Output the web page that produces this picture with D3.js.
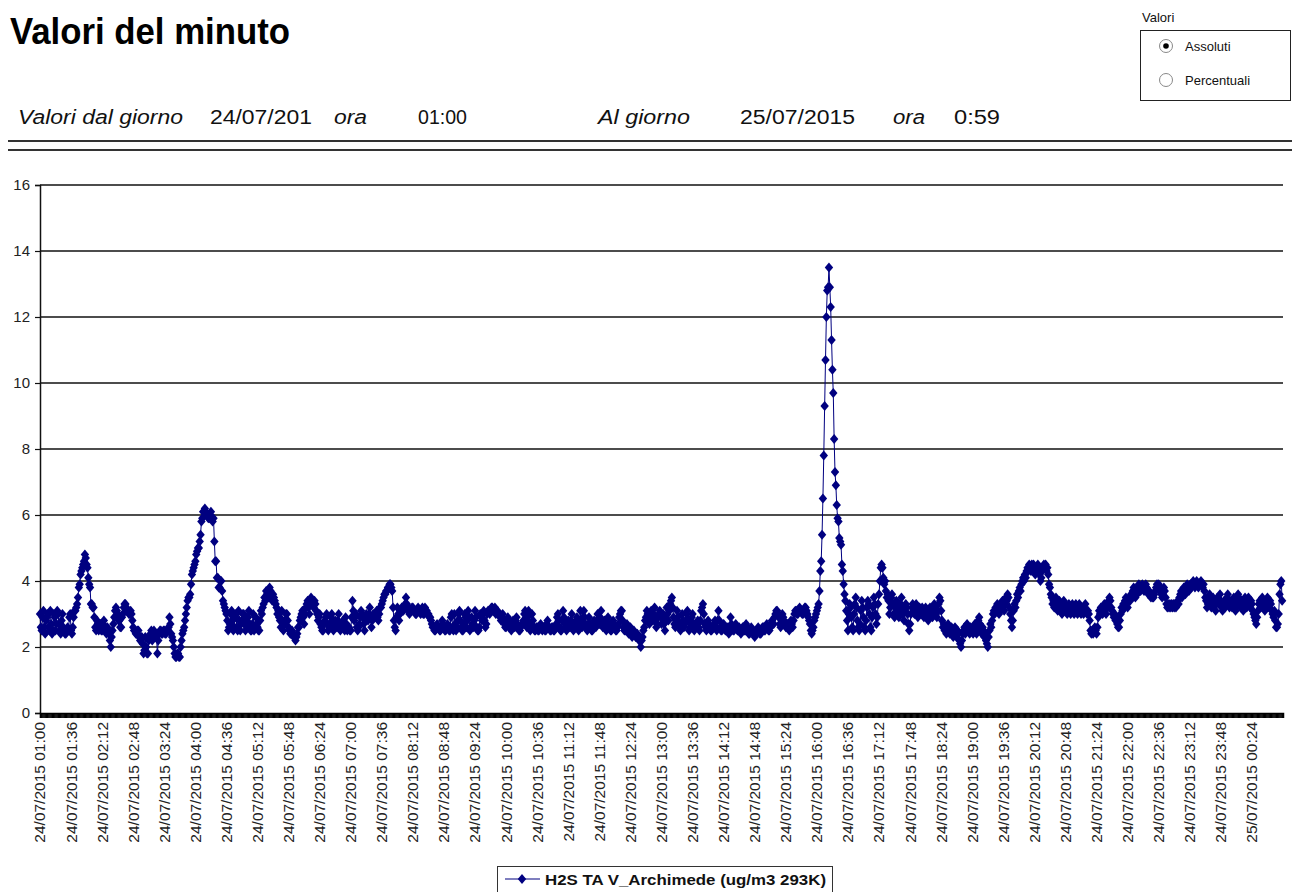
<!DOCTYPE html>
<html>
<head>
<meta charset="utf-8">
<script src="https://cdn.jsdelivr.net/npm/d3@7"></script>
<style>
  body { margin: 0; background: #fff; }
  svg { display: block; }
  text { font-family: "Liberation Sans", Arial, Helvetica, sans-serif; }
</style>
</head>
<body>
<svg id="chart" width="1292" height="892"></svg>
<script>
// H2S TA V_Archimede, one value per minute, one array per hour (24/07/2015 01:00 -> 25/07/2015 00:59)
var h01 = [3.0,2.6,2.5,2.9,3.1,2.6,2.4,2.8,2.9,3.0, 2.6,2.5,3.1,2.7,2.4,2.5,3.0,2.9,2.5,2.7, 3.1,3.0,2.7,2.5,2.4,2.8,3.0,2.6,2.5,2.4, 2.4,2.5,2.6,2.5,2.9,3.0,2.5,2.4,2.6,2.9, 3.1,3.1,3.2,3.3,3.5,3.8,3.9,4.2,4.3,4.4, 4.5,4.6,4.8,4.7,4.5,4.4,4.1,3.9,3.8,3.3];
var h02 = [3.3,3.2,3.2,2.9,2.6,2.5,2.8,2.7,2.5,2.6, 2.7,2.5,2.5,2.7,2.8,2.6,2.5,2.4,2.6,2.5, 2.4,2.2,2.0,2.3,2.5,2.7,2.9,3.1,3.2,3.1, 3.0,2.8,2.8,2.6,2.6,2.9,3.0,3.2,3.3,3.3, 3.2,3.1,3.1,3.0,3.0,3.1,3.0,2.8,2.6,2.5, 2.5,2.4,2.4,2.5,2.5,2.3,2.2,2.3,2.3,2.1];
var h03 = [1.8,1.9,2.3,2.0,1.8,1.8,2.2,2.3,2.4,2.5, 2.2,2.3,2.5,2.4,2.4,2.3,1.8,2.2,2.4,2.5, 2.5,2.4,2.4,2.5,2.5,2.4,2.4,2.5,2.5,2.6, 2.9,2.7,2.4,2.3,2.2,2.0,1.8,1.7,1.7,1.8, 1.8,1.7,1.7,2.0,2.2,2.4,2.5,2.6,2.8,3.0, 3.2,3.4,3.5,3.5,3.6,3.9,4.2,4.3,4.4,4.5];
var h04 = [4.6,4.8,4.9,5.0,5.0,5.2,5.4,5.8,5.9,6.1, 6.1,6.2,6.1,6.0,6.0,5.9,5.9,6.0,6.1,5.9, 5.8,5.9,5.2,4.6,4.6,4.1,4.1,3.8,3.8,4.0, 4.0,3.7,3.4,3.3,3.2,3.1,3.0,2.8,2.5,2.6, 2.7,3.0,3.1,2.8,2.5,2.6,2.9,3.0,2.6,2.5, 3.1,2.8,2.5,2.7,2.8,3.0,3.0,2.7,2.5,2.8];
var h05 = [2.6,2.9,3.1,2.7,2.5,2.5,2.7,3.0,2.5,2.6, 2.9,2.7,2.6,2.5,2.5,2.8,3.1,3.0,3.2,3.3, 3.5,3.4,3.7,3.6,3.6,3.5,3.8,3.7,3.5,3.4, 3.6,3.5,3.4,3.3,3.2,3.0,3.1,2.9,2.8,2.6, 3.1,2.8,2.5,2.7,2.8,3.0,3.0,2.8,2.6,2.5, 2.4,2.4,2.5,2.4,2.3,2.3,2.2,2.3,2.4,2.6];
var h06 = [2.6,2.8,2.9,3.0,3.1,2.9,2.7,3.0,3.2,3.3, 3.4,3.2,3.0,3.3,3.5,3.4,3.3,3.2,3.4,3.3, 3.1,3.0,2.8,2.9,3.0,2.7,2.6,2.5,2.5,2.7, 2.8,2.9,3.0,2.7,2.5,2.6,2.7,2.9,3.0,2.8, 2.5,2.6,2.8,2.7,2.6,2.8,3.0,2.7,2.5,2.6, 2.7,2.8,2.6,2.5,2.9,2.7,2.5,2.6,2.6,2.5];
var h07 = [2.5,2.9,3.4,3.1,2.8,2.9,3.0,2.6,2.5,2.6, 2.7,2.9,3.1,3.0,2.9,2.7,2.5,2.8,3.0,2.9, 2.8,3.0,3.2,2.9,2.6,2.8,3.0,2.9,2.9,3.0, 3.1,2.9,2.8,3.0,3.2,3.2,3.3,3.4,3.5,3.6, 3.6,3.7,3.7,3.8,3.8,3.9,3.9,3.8,3.7,3.2, 2.8,2.6,2.5,2.9,3.2,3.0,2.8,3.0,3.1,3.2];
var h08 = [3.1,3.1,3.2,3.3,3.5,3.3,3.2,3.1,3.0,3.1, 3.1,3.2,3.2,3.1,3.1,3.0,3.0,3.1,3.2,3.1, 3.1,3.0,3.1,3.2,3.0,3.0,3.2,3.1,3.1,3.0, 3.0,2.9,2.9,2.8,2.7,2.6,2.6,2.5,2.5,2.6, 2.7,2.6,2.6,2.5,2.5,2.6,2.8,2.7,2.6,2.5, 2.5,2.6,2.7,2.6,2.5,2.5,2.9,3.0,2.6,2.5];
var h09 = [3.0,2.7,2.5,2.6,2.8,3.0,3.1,2.8,2.6,2.5, 2.5,2.7,3.0,2.9,2.6,2.8,3.1,2.9,2.5,2.6, 2.9,2.7,2.6,2.8,3.1,2.9,2.6,2.5,2.5,2.6, 3.0,2.9,2.8,3.0,3.1,2.8,2.6,2.7,3.0,3.1, 3.1,3.0,3.1,3.2,3.2,3.1,3.1,3.2,3.0,3.1, 3.1,3.0,3.0,2.9,2.8,2.9,3.0,2.8,2.7,2.6];
var h10 = [2.6,2.7,2.9,2.8,2.7,2.6,2.5,2.6,2.8,2.7, 2.6,2.8,2.9,2.7,2.6,2.5,2.5,2.6,2.7,2.7, 2.8,3.0,3.1,2.8,2.6,2.9,3.1,2.7,2.5,2.7, 3.0,2.8,2.6,2.5,2.5,2.6,2.6,2.5,2.5,2.6, 2.7,2.6,2.5,2.6,2.6,2.5,2.5,2.7,2.8,2.6, 2.6,2.5,2.5,2.6,2.6,2.5,2.5,2.6,2.7,2.9];
var h11 = [3.0,2.8,2.6,2.5,2.5,2.8,3.1,2.9,2.7,2.6, 2.5,2.6,2.8,2.7,2.6,2.8,3.0,2.7,2.5,2.6, 2.7,2.8,2.9,2.7,2.5,2.7,3.1,2.8,2.6,2.9, 3.1,2.9,2.7,2.6,2.5,2.7,2.9,2.7,2.6,2.5, 2.5,2.6,2.8,2.7,2.6,2.8,3.0,2.8,2.7,2.9, 3.1,2.8,2.6,2.7,2.8,2.6,2.5,2.7,2.9,2.7];
var h12 = [2.6,2.5,2.5,2.6,2.8,2.7,2.6,2.5,2.5,2.6, 2.7,2.9,3.0,3.1,3.1,2.8,2.6,2.5,2.5,2.6, 2.7,2.5,2.4,2.5,2.6,2.4,2.3,2.4,2.5,2.4, 2.3,2.3,2.4,2.3,2.2,2.3,2.0,2.2,2.3,2.5, 2.6,2.8,2.9,3.1,3.0,2.8,2.7,2.9,3.1,3.0, 2.8,3.0,3.2,2.9,2.6,2.7,2.9,3.0,3.1,2.9];
var h13 = [2.7,2.9,3.0,2.7,2.5,2.8,3.2,3.0,2.8,3.1, 3.3,3.4,3.5,3.2,2.9,2.7,2.6,2.8,3.1,2.9, 2.7,2.6,2.5,2.7,3.0,2.8,2.6,2.7,2.8,3.0, 3.1,2.8,2.5,2.6,2.7,2.9,3.0,2.7,2.5,2.6, 2.6,2.7,2.8,2.6,2.5,2.8,3.1,3.2,3.3,3.0, 2.7,2.6,2.5,2.6,2.8,2.7,2.6,2.5,2.5,2.6];
var h14 = [2.6,2.7,2.8,2.6,2.5,2.8,3.1,2.8,2.6,2.5, 2.5,2.6,2.7,2.6,2.5,2.5,2.6,2.5,2.4,2.6, 2.9,2.7,2.6,2.5,2.5,2.6,2.7,2.6,2.5,2.5, 2.6,2.5,2.4,2.5,2.6,2.6,2.5,2.5,2.7,2.6, 2.5,2.4,2.4,2.5,2.6,2.5,2.5,2.4,2.3,2.4, 2.5,2.5,2.6,2.5,2.4,2.4,2.5,2.6,2.6,2.5];
var h15 = [2.5,2.6,2.7,2.6,2.5,2.5,2.6,2.7,2.8,2.7, 2.7,2.9,3.0,3.1,3.1,3.0,2.9,2.7,2.6,2.8, 3.0,2.9,2.8,2.7,2.6,2.6,2.7,2.6,2.5,2.7, 2.8,2.7,2.6,2.8,3.0,3.1,3.1,3.0,3.0,3.1, 3.2,3.1,3.1,3.0,3.0,3.1,3.2,3.2,3.1,3.0, 2.9,2.8,2.7,2.5,2.4,2.5,2.6,2.8,2.9,3.0];
var h16 = [3.1,3.2,3.3,3.7,4.3,4.6,5.4,6.5,7.8,9.3, 10.7,12.0,12.8,12.9,13.5,12.9,12.3,11.3,10.4,9.7, 8.3,7.3,6.9,6.3,5.9,5.8,5.3,5.2,5.1,4.5, 4.3,3.9,3.6,3.4,3.1,2.8,2.5,3.0,3.3,3.2, 2.9,2.6,2.5,3.0,3.3,3.5,3.2,2.8,2.6,2.5, 2.7,3.1,3.4,3.2,2.9,2.6,2.5,2.8,3.2,3.4];
var h17 = [3.3,3.0,2.6,2.5,2.9,3.2,3.5,3.3,3.0,2.7, 2.9,3.3,3.6,4.0,4.4,4.5,4.4,4.1,3.9,4.0, 3.7,3.5,3.6,3.4,3.0,3.2,3.5,3.6,3.3,3.0, 2.9,3.2,3.4,3.3,3.1,2.9,3.0,3.3,3.5,3.2, 3.0,2.8,3.1,3.3,3.2,3.0,2.7,2.5,2.7,3.0, 3.2,3.3,3.1,3.0,3.2,3.3,3.1,2.9,3.0,3.2];
var h18 = [3.1,3.0,3.2,3.1,2.9,3.0,3.2,3.1,3.0,2.8, 3.0,3.2,3.1,3.0,2.9,3.1,3.3,3.2,3.0,2.9, 3.1,3.3,3.5,3.4,3.1,2.8,2.6,2.7,2.5,2.6, 2.4,2.5,2.7,2.6,2.4,2.5,2.6,2.4,2.3,2.5, 2.6,2.4,2.3,2.5,2.4,2.2,2.1,2.0,2.2,2.4, 2.5,2.6,2.4,2.5,2.7,2.6,2.5,2.4,2.6,2.5];
var h19 = [2.5,2.4,2.6,2.7,2.5,2.4,2.6,2.8,2.9,2.7, 2.5,2.4,2.6,2.5,2.3,2.4,2.2,2.1,2.0,2.3, 2.5,2.7,2.6,2.8,3.0,3.1,3.0,3.2,3.1,3.3, 3.2,3.0,3.1,3.3,3.2,3.4,3.3,3.1,3.3,3.5, 3.4,3.6,3.5,3.2,3.0,2.8,2.6,2.8,3.1,3.3, 3.2,3.4,3.6,3.5,3.7,3.8,3.7,3.9,4.0,4.1];
var h20 = [4.0,4.2,4.1,4.3,4.4,4.3,4.5,4.4,4.3,4.5, 4.4,4.5,4.4,4.2,4.3,4.4,4.5,4.4,4.2,4.0, 4.1,4.3,4.4,4.5,4.4,4.5,4.3,4.4,4.2,3.9, 3.8,3.6,3.5,3.3,3.4,3.2,3.3,3.5,3.3,3.1, 3.2,3.4,3.3,3.1,3.0,3.2,3.4,3.3,3.2,3.1, 3.0,3.2,3.3,3.1,3.0,3.2,3.3,3.1,3.0,3.2];
var h21 = [3.3,3.1,3.0,3.2,3.3,3.1,3.0,3.2,3.1,3.0, 3.2,3.3,3.1,3.0,3.1,3.0,2.8,2.5,2.4,2.5, 2.4,2.5,2.6,2.5,2.4,2.6,2.9,3.1,3.0,3.2, 3.1,3.0,3.2,3.3,3.1,3.0,3.2,3.3,3.4,3.5, 3.4,3.2,3.1,3.0,2.9,3.0,2.8,2.9,2.7,2.6, 2.6,2.8,3.0,3.2,3.1,3.3,3.2,3.4,3.5,3.3];
var h22 = [3.2,3.4,3.5,3.4,3.6,3.5,3.7,3.8,3.6,3.5, 3.7,3.6,3.8,3.9,3.8,3.7,3.8,3.9,3.8,3.7, 3.8,3.9,3.8,3.7,3.6,3.7,3.6,3.5,3.6,3.5, 3.5,3.6,3.7,3.8,3.9,3.8,3.9,3.8,3.7,3.6, 3.5,3.6,3.8,3.7,3.5,3.3,3.2,3.3,3.2,3.3, 3.2,3.3,3.2,3.3,3.2,3.3,3.2,3.3,3.4,3.3];
var h23 = [3.5,3.6,3.7,3.5,3.6,3.8,3.7,3.6,3.8,3.9, 3.8,3.7,3.8,3.9,3.8,3.9,4.0,3.9,3.8,3.9, 4.0,3.9,3.8,3.9,3.9,4.0,3.9,3.8,3.9,3.7, 3.5,3.4,3.2,3.3,3.5,3.6,3.4,3.2,3.3,3.5, 3.4,3.3,3.1,3.3,3.5,3.4,3.3,3.6,3.4,3.2, 3.1,3.3,3.4,3.2,3.3,3.5,3.6,3.4,3.2,3.3];
var h24 = [3.4,3.2,3.3,3.5,3.3,3.1,3.2,3.4,3.6,3.5, 3.3,3.2,3.4,3.3,3.1,3.3,3.5,3.4,3.2,3.3, 3.5,3.3,3.2,3.4,3.3,3.1,3.0,2.9,2.8,2.7, 2.9,3.1,3.3,3.4,3.2,3.3,3.5,3.4,3.2,3.1, 3.3,3.4,3.5,3.3,3.2,3.4,3.3,3.1,3.0,2.9, 3.1,2.8,2.6,2.6,2.7,3.0,3.6,3.9,4.0,3.4];

var values = [].concat(h01,h02,h03,h04,h05,h06,h07,h08,h09,h10,h11,h12,
                       h13,h14,h15,h16,h17,h18,h19,h20,h21,h22,h23,h24);

// category labels shown on the x axis (every 36th minute)
var tickLabels = [
  "24/07/2015 01:00","24/07/2015 01:36","24/07/2015 02:12","24/07/2015 02:48","24/07/2015 03:24",
  "24/07/2015 04:00","24/07/2015 04:36","24/07/2015 05:12","24/07/2015 05:48","24/07/2015 06:24",
  "24/07/2015 07:00","24/07/2015 07:36","24/07/2015 08:12","24/07/2015 08:48","24/07/2015 09:24",
  "24/07/2015 10:00","24/07/2015 10:36","24/07/2015 11:12","24/07/2015 11:48","24/07/2015 12:24",
  "24/07/2015 13:00","24/07/2015 13:36","24/07/2015 14:12","24/07/2015 14:48","24/07/2015 15:24",
  "24/07/2015 16:00","24/07/2015 16:36","24/07/2015 17:12","24/07/2015 17:48","24/07/2015 18:24",
  "24/07/2015 19:00","24/07/2015 19:36","24/07/2015 20:12","24/07/2015 20:48","24/07/2015 21:24",
  "24/07/2015 22:00","24/07/2015 22:36","24/07/2015 23:12","24/07/2015 23:48","25/07/2015 00:24"
];
var labelStep = 36;
var yTicks = [0,2,4,6,8,10,12,14,16];
var seriesName = "H2S TA V_Archimede (ug/m3 293K)";

var svg = d3.select("#chart");
var navy = "#000080";

// ---- header ----
svg.append("text").attr("x", 10).attr("y", 44)
  .attr("font-size", 36).attr("font-weight", "bold").attr("fill", "#000")
  .attr("textLength", 280).attr("lengthAdjust", "spacingAndGlyphs")
  .text("Valori del minuto");

var header = [
  {t: "Valori dal giorno", x: 18,  w: 165, it: true},
  {t: "24/07/201",         x: 210, w: 102, it: false},
  {t: "ora",               x: 334, w: 33,  it: true},
  {t: "01:00",             x: 418, w: 49,  it: false},
  {t: "Al giorno",         x: 598, w: 92,  it: true},
  {t: "25/07/2015",        x: 740, w: 115, it: false},
  {t: "ora",               x: 893, w: 32,  it: true},
  {t: "0:59",              x: 954, w: 46,  it: false}
];
svg.selectAll("text.hdr").data(header).enter().append("text")
  .attr("class", "hdr")
  .attr("x", function(d){ return d.x; }).attr("y", 124)
  .attr("font-size", 20).attr("fill", "#111")
  .attr("font-style", function(d){ return d.it ? "italic" : "normal"; })
  .attr("textLength", function(d){ return d.w; }).attr("lengthAdjust", "spacingAndGlyphs")
  .text(function(d){ return d.t; });

svg.append("line").attr("x1", 8).attr("x2", 1292).attr("y1", 141).attr("y2", 141)
  .attr("stroke", "#333").attr("stroke-width", 2);
svg.append("line").attr("x1", 8).attr("x2", 1292).attr("y1", 150).attr("y2", 150)
  .attr("stroke", "#333").attr("stroke-width", 2);

// radio box
svg.append("text").attr("x", 1142).attr("y", 22).attr("font-size", 13).attr("fill", "#111").text("Valori");
svg.append("rect").attr("x", 1140.5).attr("y", 30.5).attr("width", 150).attr("height", 70)
  .attr("fill", "none").attr("stroke", "#222").attr("stroke-width", 1);
[{t: "Assoluti", y: 46, on: true}, {t: "Percentuali", y: 80, on: false}].forEach(function(r){
  svg.append("circle").attr("cx", 1166).attr("cy", r.y).attr("r", 6.5)
    .attr("fill", "#fff").attr("stroke", "#888").attr("stroke-width", 1);
  if (r.on) svg.append("circle").attr("cx", 1166).attr("cy", r.y).attr("r", 2.8).attr("fill", "#000");
  svg.append("text").attr("x", 1185).attr("y", r.y + 5).attr("font-size", 13).attr("fill", "#111").text(r.t);
});

// ---- chart ----
var plotLeft = 40, plotRight = 1283, plotTop = 185, plotBottom = 713;
var x = d3.scaleLinear().domain([0, 1440]).range([plotLeft, plotRight]);
var y = d3.scaleLinear().domain([0, 16]).range([plotBottom, plotTop]);

// gridlines
svg.append("g").selectAll("line").data(yTicks.filter(function(v){ return v > 0; })).enter()
  .append("line")
  .attr("x1", plotLeft).attr("x2", plotRight)
  .attr("y1", function(d){ return y(d); }).attr("y2", function(d){ return y(d); })
  .attr("stroke", "#111").attr("stroke-width", 1.4);

// y axis
var yAxis = svg.append("g").attr("transform", "translate(" + plotLeft + ",0)")
  .call(d3.axisLeft(y).tickValues(yTicks).tickSize(5).tickPadding(5));
yAxis.select(".domain").attr("stroke", "#111").attr("stroke-width", 1.5);
yAxis.selectAll(".tick line").attr("stroke", "#111").attr("stroke-width", 1.2);
yAxis.selectAll(".tick text").attr("font-size", 15).attr("fill", "#222")
  .attr("font-family", "'Liberation Sans', Arial, sans-serif");

// x axis: one tick per minute, labels every 36 minutes
var xAxis = svg.append("g").attr("transform", "translate(0," + plotBottom + ")")
  .call(d3.axisBottom(x).tickValues(d3.range(0, values.length)).tickSize(5).tickFormat(""));
xAxis.select(".domain").attr("stroke", "#000").attr("stroke-width", 1.5);
xAxis.selectAll(".tick line").attr("stroke", "#000").attr("stroke-width", 1.2);

svg.append("g").selectAll("text").data(tickLabels).enter().append("text")
  .attr("transform", function(d, i){ return "translate(" + x(i * labelStep) + "," + (plotBottom + 9) + ") rotate(-90)"; })
  .attr("dy", "0.35em")
  .attr("text-anchor", "end")
  .attr("font-size", 15.5).attr("fill", "#222")
  .text(function(d){ return d; });

// series
var line = d3.line()
  .x(function(d, i){ return x(i); })
  .y(function(d){ return y(d); });
svg.append("path").datum(values)
  .attr("d", line).attr("fill", "none").attr("stroke", navy).attr("stroke-width", 1);

var diamond = "M0,-5L4.2,0L0,5L-4.2,0Z";
svg.append("g").selectAll("path").data(values).enter().append("path")
  .attr("d", diamond)
  .attr("transform", function(d, i){ return "translate(" + x(i) + "," + y(d) + ")"; })
  .attr("fill", navy);

// legend
var lg = svg.append("g");
lg.append("rect").attr("x", 497.5).attr("y", 866.5).attr("width", 335).attr("height", 30)
  .attr("fill", "#fff").attr("stroke", "#333").attr("stroke-width", 1);
lg.append("line").attr("x1", 505).attr("x2", 540).attr("y1", 879).attr("y2", 879)
  .attr("stroke", navy).attr("stroke-width", 1.2);
lg.append("path").attr("d", diamond).attr("transform", "translate(522,879)").attr("fill", navy);
lg.append("text").attr("x", 545).attr("y", 884.5)
  .attr("font-size", 14).attr("font-weight", "bold").attr("fill", "#111")
  .attr("textLength", 281).attr("lengthAdjust", "spacingAndGlyphs")
  .text(seriesName);
</script>
</body>
</html>
